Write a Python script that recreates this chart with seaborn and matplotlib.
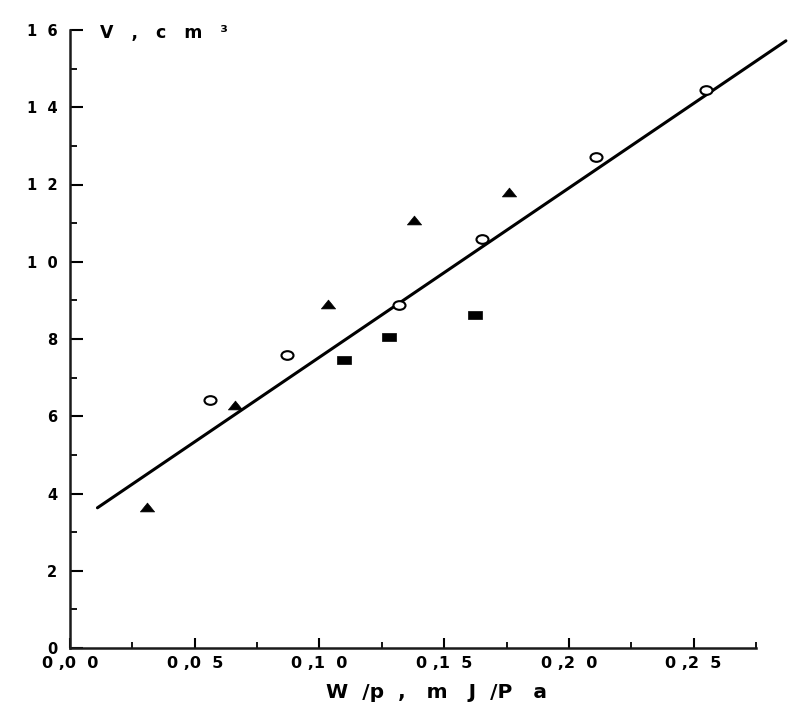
import numpy as np
import pandas as pd
import matplotlib
matplotlib.use("Agg")
import matplotlib.pyplot as plt
from matplotlib.path import Path
from matplotlib.ticker import FixedLocator, MultipleLocator
import seaborn as sns

# ---- data ----
circle_x = [0.056, 0.087, 0.132, 0.165, 0.211, 0.255]
circle_y = [6.42, 7.58, 8.88, 10.58, 12.70, 14.45]

triangle_x = [0.031, 0.066, 0.1035, 0.138, 0.176]
triangle_y = [3.65, 6.30, 8.90, 11.08, 11.80]

square_x = [0.110, 0.128, 0.1625]
square_y = [7.45, 8.05, 8.63]

fit_x = [0.011, 0.287]
fit_y = [3.63, 15.72]

xtick_values = [0.00, 0.05, 0.10, 0.15, 0.20, 0.25]
xtick_labels = ["0 ,0  0", "0 ,0  5", "0 ,1  0", "0 ,1  5", "0 ,2  0", "0 ,2  5"]
ytick_values = [0, 2, 4, 6, 8, 10, 12, 14, 16]
ytick_labels = ["0", "2", "4", "6", "8", "1  0", "1  2", "1  4", "1  6"]

x_label = "W  /p  ,   m   J  /P   a"
y_label = "V   ,   c   m   ³"

# ---- styling ----
sns.set_style("white")
plt.rcParams['font.family'] = ['DejaVu Sans']
plt.rcParams['font.weight'] = 'bold'
plt.rcParams['text.color'] = 'black'
plt.rcParams['xtick.color'] = 'black'
plt.rcParams['ytick.color'] = 'black'

fig = plt.figure(figsize=(8.0, 7.19), dpi=100)
ax = fig.add_axes([70/800, 1-648/719, (756-70)/800, (648-30)/719])

# wide (horizontally stretched) marker shapes
circ = Path.unit_circle()
ell_marker = Path(circ.vertices * np.array([1.0, 0.72]), circ.codes)
tri_marker = Path([(-1, -0.62), (1, -0.62), (0, 0.62), (-1, -0.62)],
                  [Path.MOVETO, Path.LINETO, Path.LINETO, Path.CLOSEPOLY])
sq_marker = Path([(-1, -0.6), (1, -0.6), (1, 0.6), (-1, 0.6), (-1, -0.6)],
                 [Path.MOVETO, Path.LINETO, Path.LINETO, Path.LINETO, Path.CLOSEPOLY])

sns.lineplot(x=fit_x, y=fit_y, color="black", linewidth=2.2, ax=ax)
ax.lines[-1].set_clip_on(False)

df_c = pd.DataFrame({"x": circle_x, "y": circle_y})
df_t = pd.DataFrame({"x": triangle_x, "y": triangle_y})
df_s = pd.DataFrame({"x": square_x, "y": square_y})

sns.scatterplot(data=df_c, x="x", y="y", marker=ell_marker, s=75,
                facecolor="white", edgecolor="black", linewidth=1.5, ax=ax, zorder=3)
sns.scatterplot(data=df_t, x="x", y="y", marker=tri_marker, s=105,
                color="black", edgecolor="black", linewidth=0.5, ax=ax, zorder=3)
sns.scatterplot(data=df_s, x="x", y="y", marker=sq_marker, s=110,
                color="black", edgecolor="black", linewidth=0.5, ax=ax, zorder=3)

ax.set_xlim(0, 0.275)
ax.set_ylim(0, 16)

for side in ["top", "right"]:
    ax.spines[side].set_visible(False)
for side in ["left", "bottom"]:
    ax.spines[side].set_linewidth(1.8)
    ax.spines[side].set_color("#1a1a1a")

ax.xaxis.set_major_locator(FixedLocator(xtick_values))
ax.set_xticklabels(xtick_labels)
ax.xaxis.set_minor_locator(MultipleLocator(0.025))
ax.yaxis.set_major_locator(FixedLocator(ytick_values))
ax.set_yticklabels(ytick_labels)
ax.yaxis.set_minor_locator(MultipleLocator(1))

ax.tick_params(axis="x", which="major", direction="in", length=7, width=1.5,
               labelsize=11.5, pad=6, bottom=True)
ax.tick_params(axis="x", which="minor", direction="in", length=4, width=1.3, bottom=True)
ax.tick_params(axis="y", which="major", direction="in", length=9, width=1.5,
               labelsize=10.5, pad=9, left=True)
ax.tick_params(axis="y", which="minor", direction="in", length=5, width=1.3, left=True)
for lab in ax.get_xticklabels() + ax.get_yticklabels():
    lab.set_fontweight("bold")
    lab.set_color("black")

ax.set_xlabel("")
ax.set_ylabel("")
fig.text(436/800, 1-693/719, x_label, ha="center", va="center",
         fontsize=14.5, fontweight="bold", color="black")
fig.text(100/800, 1-33/719, y_label, ha="left", va="center",
         fontsize=12.5, fontweight="bold", color="black")

fig.savefig("out.png", dpi=100, facecolor="white")
